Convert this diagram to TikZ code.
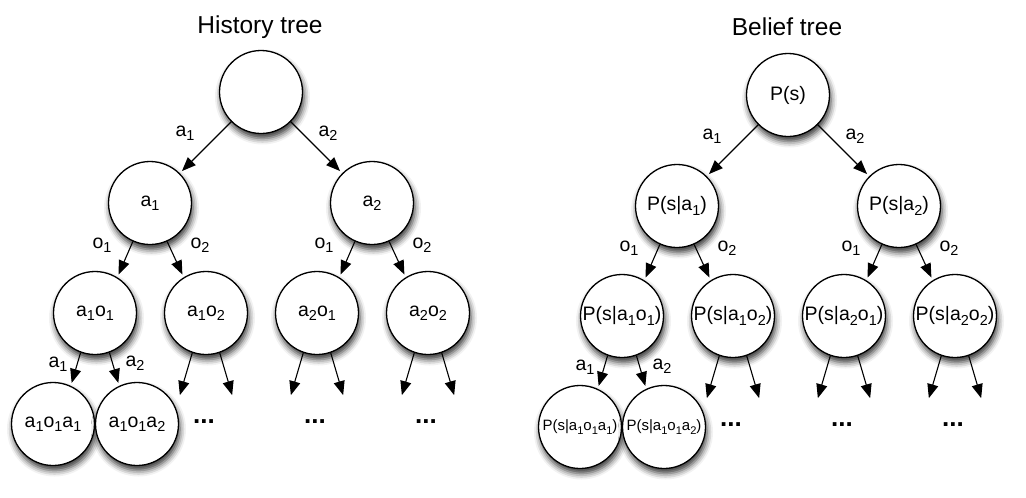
\documentclass[tikz,border=0pt]{standalone}
\usepackage{fontspec}
\setmainfont{Liberation Sans}
\usetikzlibrary{arrows.meta,shadows.blur}
\newcommand{\lo}[1]{\raisebox{-0.22em}{\scalebox{0.74}{#1}}}

\tikzstyle{vertex}=[circle, draw, fill=white, line width=1.3pt, minimum size=83pt,
                    inner sep=0pt, font=\fontsize{19.5}{22}\selectfont,
                    blur shadow={shadow xshift=1.5pt, shadow yshift=-5pt,
                                 shadow blur radius=6pt, shadow opacity=80}]
\tikzstyle{small-vertex}=[vertex, font=\fontsize{15}{18}\selectfont]
\tikzstyle{arc-label}=[inner sep=0pt, font=\fontsize{19.5}{22}\selectfont]
\tikzstyle{tree-title}=[inner sep=0pt, font=\fontsize{24.5}{28}\selectfont]
\tikzstyle{cont-dots}=[inner sep=0pt, font=\fontsize{26}{30}\selectfont\bfseries]
\tikzstyle{directed-edge}=[draw, line width=1.1pt, -{Triangle[length=14pt,width=11pt]},
                           shorten >=3pt]

\begin{document}
\begin{tikzpicture}[x=1pt, y=-1pt]
    \useasboundingbox (0,0) rectangle (1026,498);
    % Titles of the two trees
    \node[tree-title] (Htitle) at (260,27) {History tree};
    \node[tree-title] (Btitle) at (787,27) {Belief tree};
    % First we draw the vertices of the history tree
    \foreach \pos/\name/\txt in {{(261,92)/H/{}}, {(150,203)/Ha1/a\lo1}, {(372,203)/Ha2/a\lo2},
    	{(95,313)/Ha1o1/a\lo1o\lo1}, {(206,313)/Ha1o2/a\lo1o\lo2},
    	{(317,313)/Ha2o1/a\lo2o\lo1}, {(428,313)/Ha2o2/a\lo2o\lo2},
    	{(53,424)/Ha1o1a1/a\lo1o\lo1a\lo1}, {(137,424)/Ha1o1a2/a\lo1o\lo1a\lo2}}
      \node[vertex] (\name) at \pos {\txt};
    % Then the vertices of the belief tree
    \foreach \pos/\name/\txt in {{(788,95)/B/P(s)}, {(677,206)/Ba1/P(s|a\lo1)},
    	{(899,206)/Ba2/P(s|a\lo2)},
    	{(622,316)/Ba1o1/P(s|a\lo1o\lo1)}, {(733,316)/Ba1o2/P(s|a\lo1o\lo2)},
    	{(844,316)/Ba2o1/P(s|a\lo2o\lo1)}, {(955,316)/Ba2o2/P(s|a\lo2o\lo2)}}
      \node[vertex] (\name) at \pos {\txt};
    \foreach \pos/\name/\txt in {{(580,427)/Ba1o1a1/P(s|a\lo1o\lo1a\lo1)},
    	{(664,427)/Ba1o1a2/P(s|a\lo1o\lo1a\lo2)}}
      \node[small-vertex] (\name) at \pos {\txt};
    % Connect vertices with edges and draw labels
    \foreach \t in {H,B} {
      \foreach \src/\dest/\out/\in in {/a1/225/45, /a2/315/135,
      				a1/a1o1/246/58, a1/a1o2/294/122, a2/a2o1/246/58, a2/a2o2/294/122,
      				a1o1/a1o1a1/250/65, a1o1/a1o1a2/290/115}
        \path[directed-edge] (\t\src.\out) -- (\t\dest.\in);
      \foreach \src/\dest/\dx/\dy/\txt in {/a1/-76/41/a\lo1, /a2/67/41/a\lo2,
      				a1/a1o1/-48/42/o\lo1, a1/a1o2/50/42/o\lo2,
      				a2/a2o1/-48/42/o\lo1, a2/a2o2/50/42/o\lo2,
      				a1o1/a1o1a1/-37/51/a\lo1, a1o1/a1o1a2/40/50/a\lo2}
        \node[arc-label] (\t\dest-label) at ([shift={(\dx,\dy)}]\t\src) {\txt};
      % Open branches
      \foreach \src in {a1o2, a2o1, a2o2} {
        \coordinate (\t\src-l) at ([shift={(-27,85)}]\t\src);
        \coordinate (\t\src-r) at ([shift={(27,85)}]\t\src);
        \path[directed-edge] (\t\src.251) -- (\t\src-l);
        \path[directed-edge] (\t\src.289) -- (\t\src-r);
        \node[cont-dots] (\t\src-dots) at ([shift={(-2,109)}]\t\src) {...};
      }
    }
\end{tikzpicture}
\end{document}
